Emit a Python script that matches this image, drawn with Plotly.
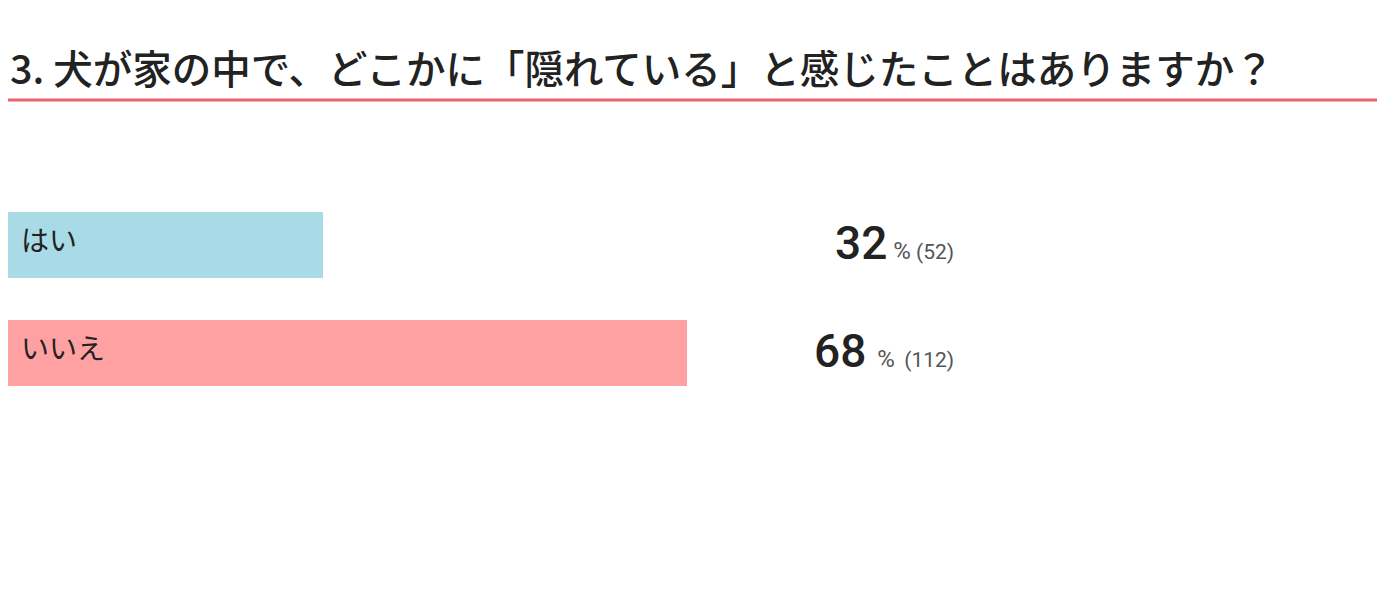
import plotly.graph_objects as go

title = "3. 犬が家の中で、どこかに「隠れている」と感じたことはありますか？"
categories = ["はい", "いいえ"]
percents = [32, 68]
counts = [52, 112]
colors = ["#a9dbe6", "#ffa0a3"]

W, H = 1396, 594
OFF = 8  # page body margin
PX_PER_PCT = 10.1
x0 = OFF / PX_PER_PCT          # value 0 sits at page x = 0
x_max = x0 + W / PX_PER_PCT
CY0 = 245 - OFF   # centre of first bar (figure px)
STEP = 108
y_top = -CY0 / STEP
y_bot = (H - CY0) / STEP

fig = go.Figure()
fig.add_trace(go.Bar(
    x=percents, y=list(range(len(categories))), orientation="h",
    marker=dict(color=colors, line=dict(width=0)),
    width=66 / STEP, hoverinfo="skip", showlegend=False,
))

spacers = [" ", " \u2009"]
annotations = []
for i, (cat, p, c) in enumerate(zip(categories, percents, counts)):
    sp = spacers[i]
    annotations.append(dict(
        x=11 / W, xref="paper", y=i - 0.055, yref="y", text=cat,
        xanchor="left", yanchor="middle", showarrow=False,
        font=dict(family="Noto Sans CJK JP", size=28, color="#222222"),
    ))
    annotations.append(dict(
        x=(956 - OFF) / W, xref="paper", y=i - 0.02, yref="y",
        text=(f"<span style='font-size:46px;color:#222222;font-weight:500'>{p}</span>"
              f"<span style='font-size:24px;color:#555555'>{sp}%</span>"
              f"<span style='font-size:21px;color:#555555'>{sp}({c})</span>"),
        xanchor="right", yanchor="middle", showarrow=False,
        font=dict(family="Roboto", size=21, color="#555555"),
    ))
annotations.append(dict(
    x=0, xref="paper", y=1 - 58 / H, yref="paper", text=title,
    xanchor="left", yanchor="middle", showarrow=False,
    font=dict(family="Noto Sans CJK JP", size=39.5, color="#222222", weight=500),
))

ly = 1 - (100 - OFF) / H
fig.update_layout(
    width=W, height=H, margin=dict(l=0, r=0, t=0, b=0),
    paper_bgcolor="white", plot_bgcolor="white",
    xaxis=dict(range=[x0, x_max], visible=False, fixedrange=True),
    yaxis=dict(range=[y_bot, y_top], visible=False, fixedrange=True),
    annotations=annotations,
    shapes=[dict(type="line", xref="paper", yref="paper",
                 x0=0, x1=(1377 - OFF) / W, y0=ly, y1=ly,
                 line=dict(color="#e9636c", width=3))],
    bargap=0,
)

fig.write_html("out.html")
